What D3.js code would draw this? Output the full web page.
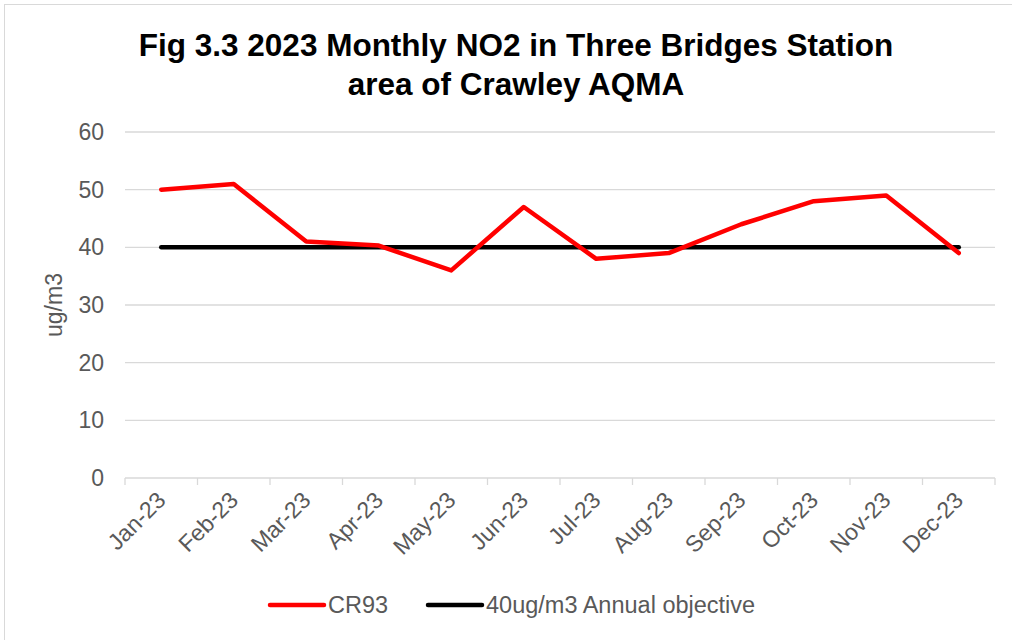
<!DOCTYPE html>
<html>
	<head>
		<title>Fig 3.3 Monthly NO2</title>
		<style>
			body,html
			{
				margin:0px;
				background:#fff;
			}
			text
			{
				font-family:"Liberation Sans", Arial, sans-serif;
			}
		</style>
		<script src='https://cdn.jsdelivr.net/npm/d3@7/dist/d3.min.js'></script>
	</head>
	<body>
	<svg id='chart' width='1012' height='640'></svg>
	<script>
		// data
		var months = ["Jan-23","Feb-23","Mar-23","Apr-23","May-23","Jun-23","Jul-23","Aug-23","Sep-23","Oct-23","Nov-23","Dec-23"];
		var cr93 = [50, 51, 41, 40.3, 36, 47, 38, 39, 44, 48, 49, 39];
		var objective = [40, 40, 40, 40, 40, 40, 40, 40, 40, 40, 40, 40];
		var yTicks = [0, 10, 20, 30, 40, 50, 60];
		var seriesNames = ["CR93", "40ug/m3 Annual objective"];
		var seriesColors = ["#ff0000", "#000000"];

		var svg = d3.select('#chart');

		// outer chart border
		svg.append("rect")
			.attr("x", 4.5).attr("y", 4.5)
			.attr("width", 1012).attr("height", 640)
			.attr("fill", "none").attr("stroke", "#d9d9d9");

		var pLeft = 125, pRight = 995, pTop = 132, pBottom = 478;

		var x = d3.scaleBand().domain(months).range([pLeft, pRight]);
		var y = d3.scaleLinear().domain([0, 60]).range([pBottom, pTop]);

		// gridlines
		svg.append("g")
			.selectAll("line")
			.data(yTicks.filter(function(d){ return d > 0; }))
			.enter().append("line")
			.attr("x1", pLeft).attr("x2", pRight)
			.attr("y1", function(d){ return y(d); })
			.attr("y2", function(d){ return y(d); })
			.attr("stroke", "#d9d9d9").attr("stroke-width", 1.3);

		// y axis labels
		var yAxis = d3.axisLeft(y).tickValues(yTicks).tickSize(0).tickPadding(21);
		var gy = svg.append("g").attr("transform", "translate(" + pLeft + ",0)").call(yAxis);
		gy.select(".domain").remove();
		gy.selectAll("text")
			.attr("fill", "#595959")
			.style("font-size", "23px")
			.style("font-family", "'Liberation Sans', Arial, sans-serif");

		// x axis with boundary ticks
		var gx = svg.append("g").attr("transform", "translate(0," + pBottom + ")");
		gx.append("line")
			.attr("x1", pLeft).attr("x2", pRight)
			.attr("stroke", "#d9d9d9").attr("stroke-width", 1.3);
		gx.selectAll("line.tk")
			.data(months.concat(["end"]))
			.enter().append("line")
			.attr("class", "tk")
			.attr("x1", function(d, i){ return pLeft + i * x.step(); })
			.attr("x2", function(d, i){ return pLeft + i * x.step(); })
			.attr("y1", 0).attr("y2", 7)
			.attr("stroke", "#d9d9d9").attr("stroke-width", 1.3);
		gx.selectAll("text")
			.data(months)
			.enter().append("text")
			.attr("transform", function(d){ return "translate(" + (x(d) + x.bandwidth() / 2 - 6) + ",12) rotate(-45)"; })
			.attr("text-anchor", "end")
			.attr("dy", "0.72em")
			.attr("fill", "#595959")
			.style("font-size", "23px")
			.text(function(d){ return d; });

		// y axis title
		svg.append("text")
			.attr("transform", "translate(62," + ((pTop + pBottom) / 2) + ") rotate(-90)")
			.attr("text-anchor", "middle")
			.attr("fill", "#595959")
			.style("font-size", "23px")
			.text("ug/m3");

		// lines
		var line = d3.line()
			.x(function(d, i){ return x(months[i]) + x.bandwidth() / 2; })
			.y(function(d){ return y(d); });

		svg.append("path")
			.datum(objective)
			.attr("d", line)
			.attr("fill", "none")
			.attr("stroke", seriesColors[1])
			.attr("stroke-width", 4.5)
			.attr("stroke-linecap", "round");

		svg.append("path")
			.datum(cr93)
			.attr("d", line)
			.attr("fill", "none")
			.attr("stroke", seriesColors[0])
			.attr("stroke-width", 4.5)
			.attr("stroke-linecap", "round")
			.attr("stroke-linejoin", "round");

		// title
		var title = svg.append("text")
			.attr("text-anchor", "middle")
			.attr("font-weight", "bold")
			.attr("fill", "#000")
			.style("font-size", "31.5px");
		title.append("tspan").attr("x", 516).attr("y", 56).text("Fig 3.3 2023 Monthly NO2 in Three Bridges Station");
		title.append("tspan").attr("x", 516).attr("y", 95).text("area of Crawley AQMA");

		// legend
		var legendX = [270, 428];
		var lg = svg.append("g").selectAll("g")
			.data(seriesNames)
			.enter().append("g")
			.attr("transform", function(d, i){ return "translate(" + legendX[i] + ",605)"; });
		lg.append("line")
			.attr("x1", 0).attr("x2", 54)
			.attr("stroke", function(d, i){ return seriesColors[i]; })
			.attr("stroke-width", 4.5)
			.attr("stroke-linecap", "round");
		lg.append("text")
			.attr("x", 58).attr("dy", "0.35em")
			.attr("fill", "#595959")
			.style("font-size", "23.5px")
			.text(function(d){ return d; });
	</script>
	</body>
</html>
